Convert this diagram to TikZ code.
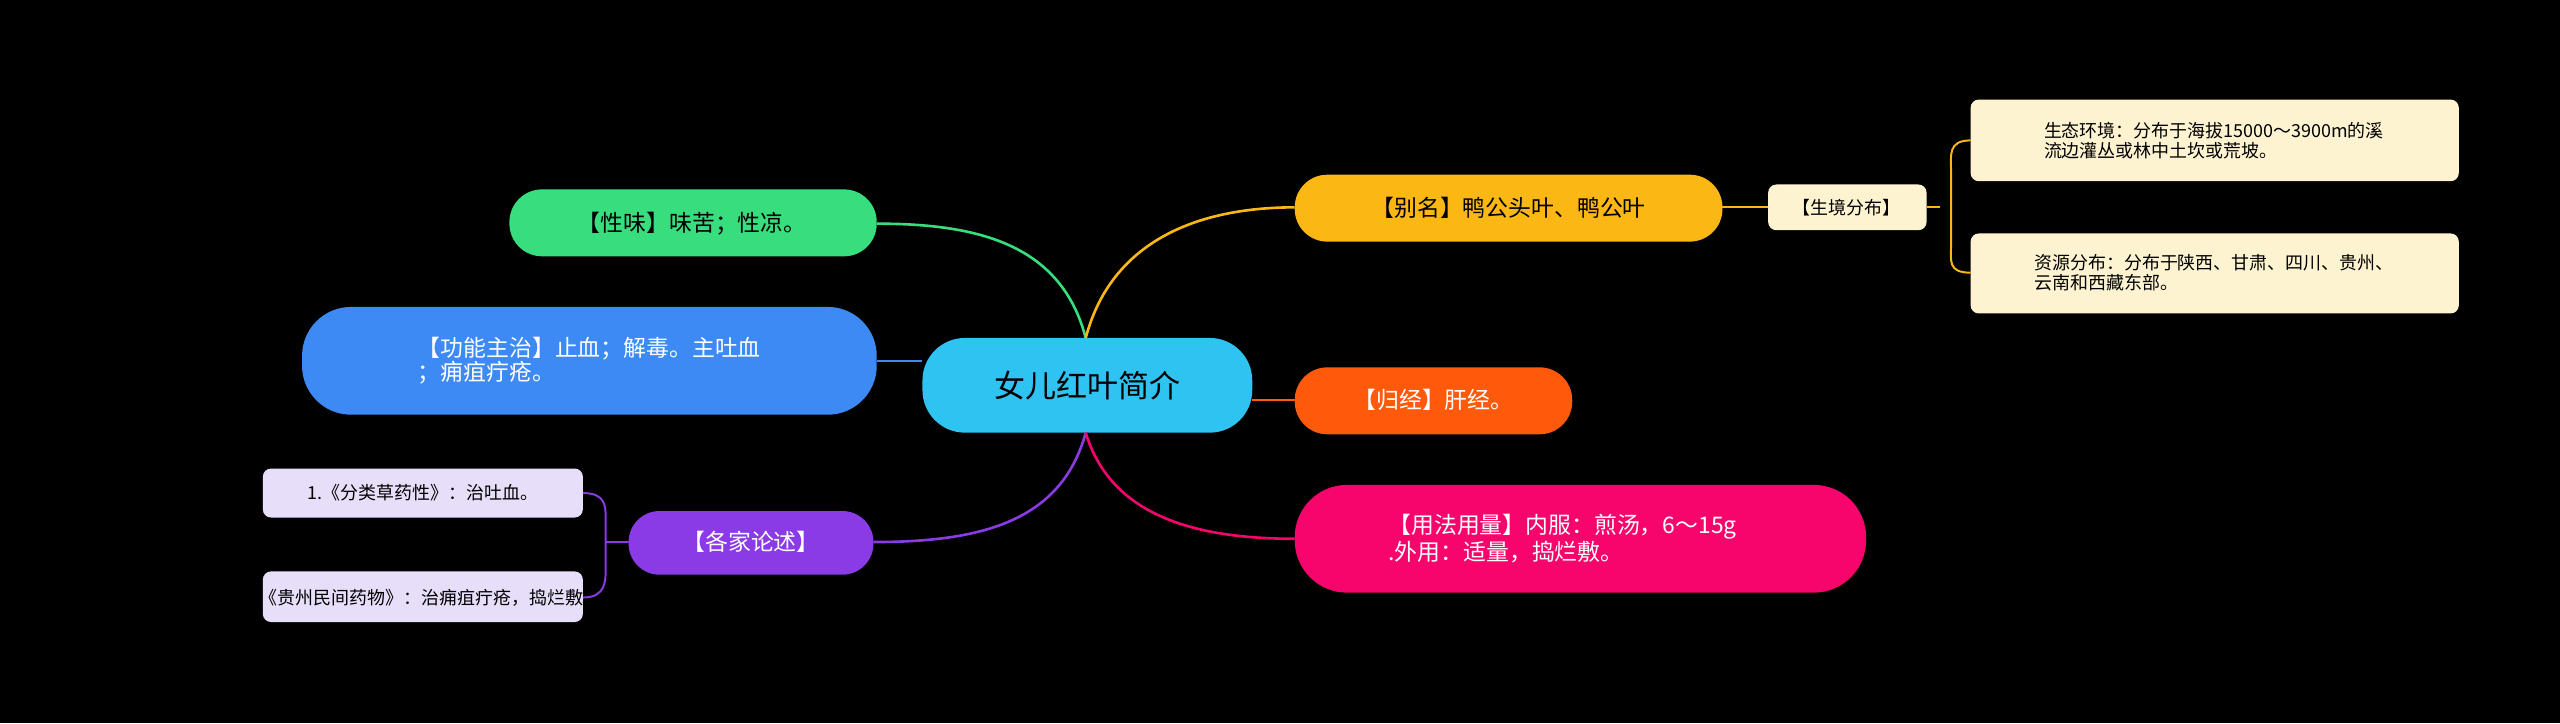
\documentclass[tikz,border=0pt]{standalone}
\usepackage{fontspec}
\setmainfont{Noto Sans CJK SC}
\begin{document}
\begin{tikzpicture}[x=1pt,y=-1pt,
 box/.style={rounded corners=#1,inner sep=0pt,align=left},
 lnk/.style={line width=1.6pt},
 sublnk/.style={line width=1.2pt}]
\fill[black] (0,0) rectangle (1568,443);
\useasboundingbox (0,0) rectangle (1568,443);
\definecolor{ccyan}{HTML}{2FC3F2}
\definecolor{cgreen}{HTML}{38DE7E}
\definecolor{cblue}{HTML}{3D8AF5}
\definecolor{cpurp}{HTML}{8A3BE6}
\definecolor{clav}{HTML}{E7DEF9}
\definecolor{cyel}{HTML}{FBB713}
\definecolor{ccream}{HTML}{FEF3D1}
\definecolor{corange}{HTML}{FF5A0B}
\definecolor{cpink}{HTML}{F6066C}
% boxes
\fill[ccyan,rounded corners=26] (565,207) rectangle (767,265);
\node (c) at (666,236) {\fontsize{19}{22}\selectfont 女儿红叶简介};
\fill[cgreen,rounded corners=20] (312,116) rectangle (537,157);
\node (xw) at (424,137) {\fontsize{14}{17}\selectfont 【性味】味苦；性凉。};
\fill[cblue,rounded corners=30] (185,188) rectangle (537,254);
\node[align=left,white] (gn) at (361,221) {\fontsize{14}{22}\selectfont 【功能主治】止血；解毒。主吐血\\\fontsize{14}{22}\selectfont ；痈疽疔疮。};
\fill[cpurp,rounded corners=19] (385,313) rectangle (535,352);
\node[white] (gj) at (460,332) {\fontsize{14}{17}\selectfont 【各家论述】};
\fill[clav,rounded corners=5] (161,287) rectangle (357,317);
\node (g1) at (259,302) {\fontsize{11}{13}\selectfont 1.《分类草药性》：治吐血。};
\fill[clav,rounded corners=5] (161,350) rectangle (357,381);
\node (g2) at (259,366) {\fontsize{11}{13}\selectfont 2.《贵州民间药物》：治痈疽疔疮，捣烂敷。};
\fill[cyel,rounded corners=20] (793,107) rectangle (1055,148);
\node (bm) at (924,127) {\fontsize{14}{17}\selectfont 【别名】鸭公头叶、鸭公叶};
\fill[ccream,rounded corners=5] (1083,113) rectangle (1180,141);
\node (sj) at (1131,127) {\fontsize{11}{13}\selectfont 【生境分布】};
\fill[ccream,rounded corners=5] (1207,61) rectangle (1506,111);
\node[align=left] (s1) at (1356,86) {\fontsize{11}{19}\selectfont 生态环境：分布于海拔15000～3900m的溪\\\fontsize{11}{19}\selectfont 流边灌丛或林中土坎或荒坡。};
\fill[ccream,rounded corners=5] (1207,143) rectangle (1506,192);
\node[align=left] (s2) at (1356,167) {\fontsize{11}{19}\selectfont 资源分布：分布于陕西、甘肃、四川、贵州、\\\fontsize{11}{19}\selectfont 云南和西藏东部。\hphantom{资源分布：分布于陕西、}};
\fill[corange,rounded corners=20] (793,225) rectangle (963,266);
\node[white] (gjj) at (878,245) {\fontsize{14}{17}\selectfont 【归经】肝经。};
\fill[cpink,rounded corners=32] (793,297) rectangle (1143,363);
\node[align=left,white] (yf) at (966,330) {\fontsize{14}{22}\selectfont 【用法用量】内服：煎汤，6～15g\\\fontsize{14}{22}\selectfont .外用：适量，捣烂敷。\hphantom{6～15g煎汤，}};
% connectors
\coordinate (ct) at (665,207);
\coordinate (cb) at (665,265);
\draw[lnk,cgreen] (ct) .. controls (650,150) and (600,137) .. (537,137);
\draw[lnk,cblue] (565,221) -- (537,221);
\draw[lnk,cpurp] (cb) .. controls (650,320) and (600,332) .. (535,332);
\draw[lnk,cyel] (ct) .. controls (680,150) and (730,127) .. (793,127);
\draw[lnk,corange] (767,245) -- (793,245);
\draw[lnk,cpink] (cb) .. controls (680,315) and (730,330) .. (793,330);
\draw[sublnk,cyel] (1055,127) -- (1083,127);
\draw[sublnk,cyel] (1180,127) -- (1188,127);
\draw[sublnk,cyel] (1207,86) .. controls (1193,86) and (1195,95) .. (1195,105) -- (1195,150) .. controls (1195,160) and (1193,167) .. (1207,167);
\draw[sublnk,cpurp] (385,332) -- (378,332);
\draw[sublnk,cpurp] (357,302) .. controls (371,302) and (371,310) .. (371,318) -- (371,348) .. controls (371,356) and (371,366) .. (357,366);
\draw[sublnk,cpurp] (371,332) -- (385,332);
\end{tikzpicture}
\end{document}
